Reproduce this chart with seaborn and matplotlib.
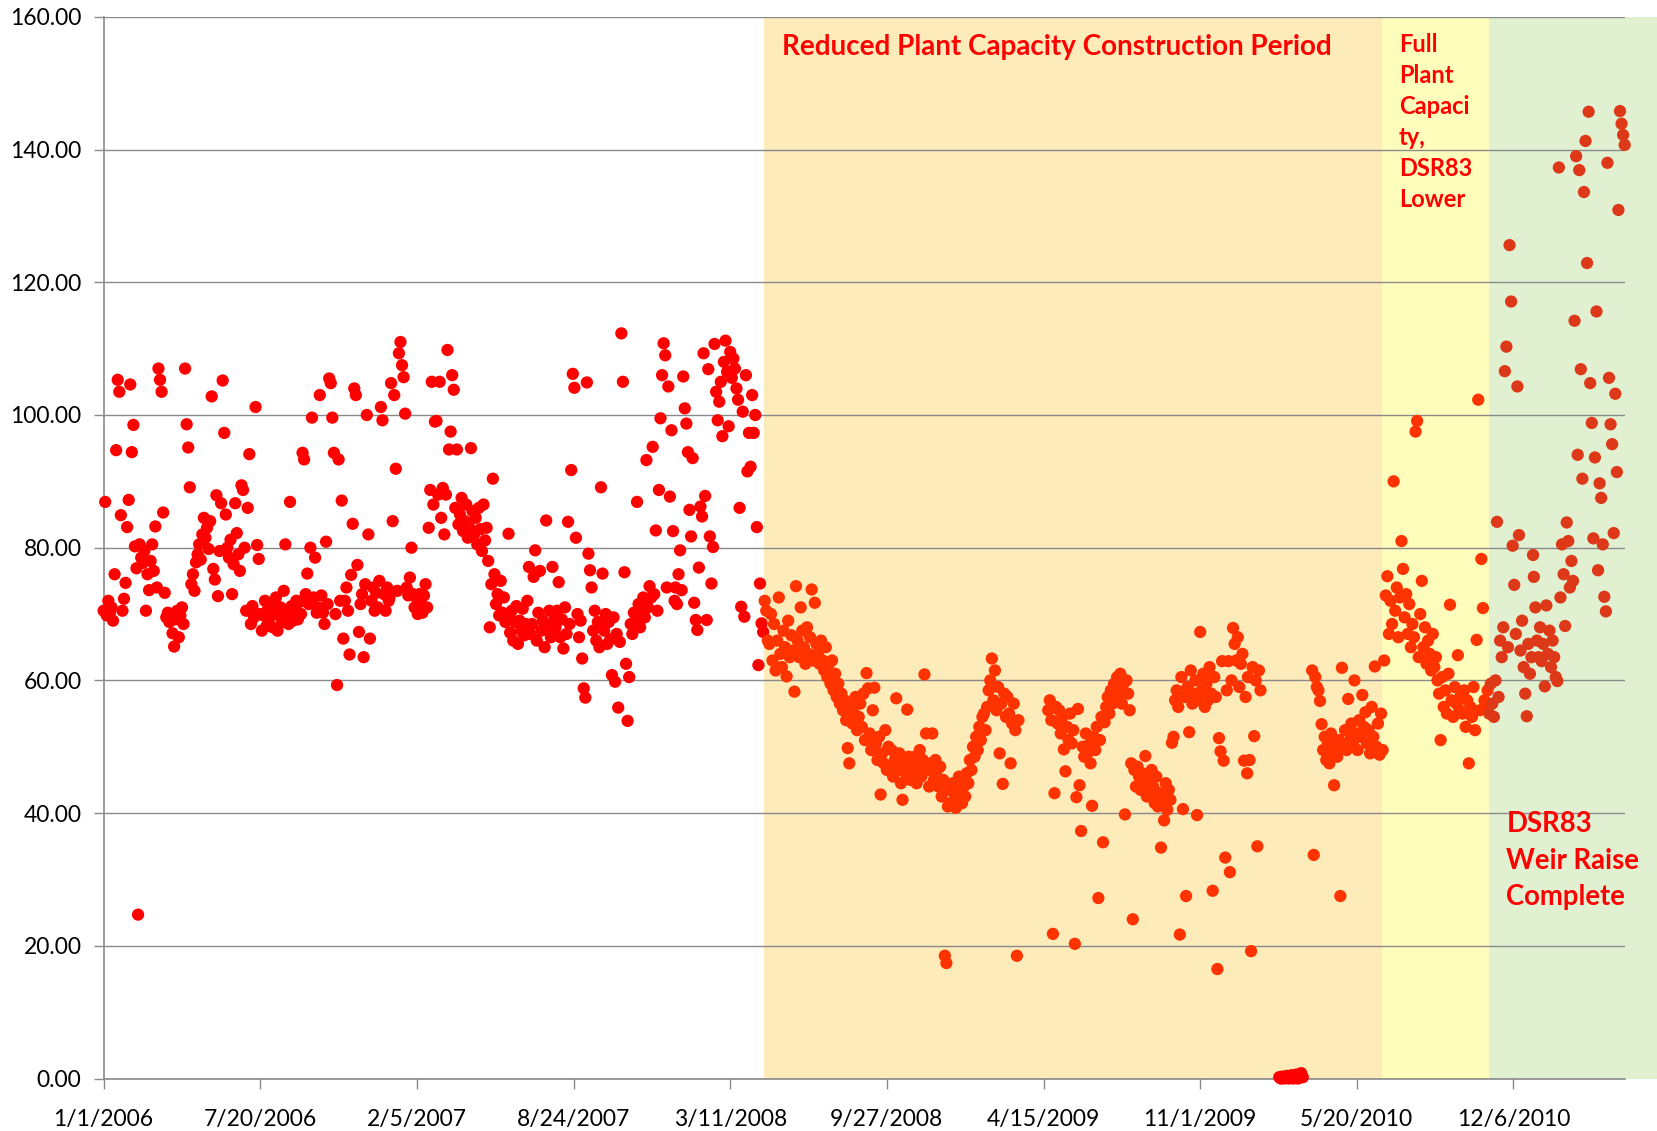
import numpy as np
import pandas as pd
import matplotlib
matplotlib.use("Agg")
import matplotlib.pyplot as plt
import seaborn as sns

NA = None

# Daily-ish readings (one value every 2 days from Jan 1 of each year)
v2006 = [
    70.5, 86.9, 69.8, 72.0, 70.2, 71.0, 69.0, 76.0, 94.7, 105.3, 103.5, 84.9, 70.5, 72.3, 74.7, 83.1,
    87.2, 104.6, 94.4, 98.5, 80.2, 76.9, 24.7, 80.5, 78.5, 77.7, 79.5, 70.5, 76.0, 73.6,
    78.0, 80.5, 76.5, 83.2, 74.0, 107.0, 105.3, 103.5, 85.3, 73.2, 69.5, 70.2, 68.8, 69.9, 67.1,
    65.1, 69.2, 70.5, 66.5, 69.8, 71.0, 68.5, 107.0, 98.6, 95.1, 89.1, 74.5, 76.0, 73.5, 77.8,
    79.0, 80.5, 78.2, 82.0, 84.5, 81.5, 83.0, 79.8, 84.0, 102.8, 76.8, 75.2, 87.9, 72.7, 79.5,
    86.7, 105.2, 97.3, 85.0, 80.0, 78.5, 81.2, 73.0, 77.5, 86.7, 82.2, 79.0, 76.5, 89.4, 88.7, 80.0,
    70.5, 86.0, 94.1, 68.5, 71.2, 69.5, 101.2, 80.4, 78.3, 70.0, 67.5, 69.8, 72.0, 68.2, 70.8,
    69.5, 71.5, 68.0, 70.2, 72.5, 67.5, 69.8, 71.0, 68.8, 73.5, 80.5, 70.0, 68.5, 86.9, 71.2, 69.0,
    70.5, 72.0, 69.2, 71.8, 70.0, 94.3, 93.3, 73.0, 76.1, 71.5, 80.0, 99.6, 72.5, 78.5, 70.2,
    71.0, 103.0, 72.8, 70.2, 68.5, 80.9, 71.5, 105.5, 104.8, 99.6, 94.3, 70.0, 59.3, 93.3, 72.0,
    87.1, 66.3, 72.0, 74.0, 70.5, 63.9, 75.9, 83.6, 104.0, 103.0, 77.4, 67.3, 71.5, 73.0, 63.5,
    74.5, 100.0, 82.0, 66.3, 72.0, 74.0, 70.5, 73.2, 71.0, 75.0, 101.2, 99.2, 73.0, 70.5, 74.0, 72.0,
]
v2007 = [
    72.5, 104.8, 84.0, 103.0, 91.9, 73.5, 109.3, 111.0, 107.5, 105.7, 100.2, 74.0, 72.8, 75.5, 80.0, 73.0,
    71.0, 72.5, 70.0, 73.0, 71.5, 70.2, 72.8, 74.5, 71.0, 83.0, 88.7, 105.0, 86.5, 99.0,
    99.1, 88.0, 105.0, 84.5, 89.0, 82.0, 88.0, 109.8, 94.8, 97.5, 106.0, 103.8, 86.0, 94.8, 83.5,
    85.0, 87.5, 82.5, 84.0, 86.5, 81.5, 83.0, 95.0, 85.5, 82.0, 84.5, 80.5, 86.0, 82.8, 79.5,
    86.5, 81.1, 83.0, 78.0, 68.0, 74.5, 90.4, 76.0, 71.5, 73.0, 69.8, 75.0, 70.2, 72.5, 68.8,
    69.5, 82.1, 67.2, 70.5, 66.0, 68.8, 71.2, 65.5, 69.0, 67.5, 70.8, 66.8, 68.5, 72.0, 77.1, 67.0,
    68.5, 75.6, 79.6, 66.0, 70.2, 76.5, 67.5, 69.0, 65.0, 84.1, 68.2, 70.5, 66.5, 77.1, 69.0,
    68.0, 70.5, 74.8, 66.5, 69.2, 64.8, 71.0, 67.0, 83.9, 68.5, 91.7, 106.2, 104.1, 81.5, 70.0, 66.5,
    69.0, 63.3, 58.8, 57.4, 104.9, 79.1, 76.6, 74.0, 67.5, 70.5, 66.0, 68.8, 65.0, 89.1, 76.1,
    67.5, 70.0, 65.5, 68.8, 66.2, 60.8, 69.5, 59.8, 67.0, 55.9, 65.8, 112.3, 105.0, 76.3, 62.5,
    53.9, 60.5, 68.5, 67.0, 70.2, 69.0, 86.9, 71.5, 68.0, 70.8, 72.5, 69.5, 93.2, 71.0, 74.2,
    72.5, 95.2, 73.0, 82.6, 70.5, 88.7, 99.5, 106.0, 110.8, 109.0, 74.0, 104.3, 87.7, 97.7, 82.5, 72.0,
]
v2008 = [
    74.0, 71.5, 76.0, 79.6, 73.6, 105.8, 101.0, 98.7, 94.4, 85.7, 81.7, 93.5, 71.7, 69.1, 67.6, 77.0,
    86.2, 84.7, 109.3, 87.8, 69.1, 106.9, 81.7, 74.6, 80.1, 110.7, 103.5, 99.2, 102.0, 105.0,
    96.8, 108.0, 111.2, 106.5, 98.3, 109.5, 105.6, 108.5, 107.0, 104.0, 102.3, 86.0, 71.1, 100.5, 69.6,
    106.0, 91.5, 97.3, 92.2, 103.0, 97.3, 100.0, 83.1, 62.3, 74.6, 68.6, 67.3, 72.0, 70.5, 66.0,
    65.5, 70.0, 63.0, 68.5, 61.5, 66.0, 72.5, 64.0, 62.0, 67.5, 65.0, 60.6, 69.0, 63.5, 66.8,
    64.5, 58.3, 74.2, 66.0, 63.5, 71.0, 67.5, 65.0, 62.5, 68.0, 64.0, 66.5, 73.7, 63.0, 71.7, 65.5,
    64.0, 62.5, 66.0, 63.0, 61.5, 65.0, 60.5, 62.5, 59.5, 63.0, 58.5, 61.0, 57.5, 59.5, 56.5,
    58.0, 55.5, 57.0, 54.0, 49.8, 47.5, 56.0, 53.5, 55.0, 57.5, 52.5, 54.5, 56.5, 53.0, 58.0, 51.0,
    61.1, 58.8, 52.0, 49.5, 55.5, 58.9, 50.5, 48.0, 51.5, 42.8, 49.0, 47.5, 52.5, 46.5, 50.0,
    47.0, 49.5, 45.5, 48.0, 57.3, 46.5, 49.0, 44.5, 42.0, 47.5, 46.0, 55.6, 48.5, 45.0, 47.5,
    46.0, 48.5, 44.5, 47.0, 49.5, 45.5, 48.0, 60.9, 52.0, 46.5, 44.0, 47.5, 52.0, 45.0, 48.0,
    46.5, 44.0, 47.0, 42.5, 45.0, 18.5, 17.4, 41.0, 43.5, 41.5, 44.5, 42.0, 40.8, 43.0, 45.5, 42.5,
]
v2009 = [
    41.5, 44.0, 42.5, 46.0, 44.5, 48.0, 46.5, 50.0, 48.5, 51.5, 49.5, 53.0, 51.0, 54.5, 55.0, 52.5,
    56.0, 58.5, 60.0, 63.3, 57.0, 61.5, 55.5, 59.0, 49.0, 56.5, 44.4, 58.0, 54.5, 57.5,
    55.0, 47.5, 53.5, 56.5, 52.5, 18.5, 54.0, NA, NA, NA, NA, NA, NA, NA, NA,
    NA, NA, NA, NA, NA, NA, NA, NA, NA, NA, 55.5, 57.0, 54.0, 21.8, 43.0,
    56.0, 53.5, 55.5, 52.0, 54.5, 49.6, 46.3, 53.0, 51.0, 55.0, 50.5, 52.5, 20.3, 42.4, 55.7,
    44.2, 37.3, 50.0, 48.5, 52.0, 49.0, 50.3, 47.5, 41.1, 51.5, 49.5, 53.0, 27.2, 51.0, 54.5, 35.6,
    53.7, 56.0, 57.5, 55.0, 58.5, 56.5, 59.5, 57.0, 60.5, 58.0, 61.0, 56.5, 59.5, 39.8, 60.0,
    58.0, 55.5, 47.5, 24.0, 46.5, 44.0, 47.0, 45.5, 43.5, 46.0, 44.5, 48.6, 42.5, 45.0, 43.0, 46.5,
    44.0, 41.5, 45.5, 41.0, 43.0, 34.8, 42.0, 38.9, 44.5, 40.5, 43.5, 42.0, 50.6, 51.5, 57.0,
    58.5, 56.0, 21.7, 60.5, 40.6, 57.5, 27.5, 59.0, 52.2, 61.5, 56.5, 58.0, 60.0, 39.7, 57.0,
    67.3, 58.5, 61.0, 56.0, 59.5, 57.0, 62.0, 58.0, 28.3, 60.5, 57.5, 16.5, 51.3, 49.3, 62.9,
    47.9, 33.3, 58.5, 62.9, 31.1, 60.0, 67.9, 65.5, 63.0, 66.5, 59.0, 62.5, 64.0, 47.9, 57.5, 46.0,
]
v2010 = [
    60.5, 48.0, 19.2, 62.0, 51.6, 60.0, 35.0, 61.5, 58.5, NA, NA, NA, NA, NA, NA, NA,
    NA, NA, NA, NA, 0.2, 0.0, 0.3, 0.0, 0.1, 0.4, 0.0, 0.2, 0.5, 0.0,
    0.1, 0.6, 0.0, 0.3, 0.8, 0.2, NA, NA, NA, NA, NA, 61.5, 33.7, 60.5, 59.0,
    58.5, 56.9, 53.4, 49.5, 51.5, 48.0, 50.5, 47.5, 52.0, 49.0, 44.2, 50.0, 48.5, 51.0, 27.5,
    61.9, 50.0, 52.5, 49.5, 57.2, 51.0, 53.5, 50.5, 60.0, 52.0, 49.5, 54.0, 51.5, 57.8, 53.0,
    55.2, 50.5, 52.5, 49.0, 56.0, 51.5, 62.1, 50.0, 53.5, 48.8, 55.0, 49.5, 63.0, 72.8, 75.7, 67.0,
    72.0, 68.5, 90.0, 70.5, 74.0, 66.5, 72.5, 81.0, 76.8, 69.5, 73.0, 67.0, 71.5, 65.0, 68.5,
    66.5, 97.5, 99.1, 63.5, 70.0, 75.0, 65.0, 68.0, 62.5, 66.0, 64.0, 61.5, 67.0, 62.0, 63.5, 60.0,
    58.0, 51.0, 60.5, 56.0, 58.5, 55.0, 61.0, 71.4, 57.0, 54.5, 59.0, 56.5, 63.8, 55.5, 58.0,
    55.0, 58.5, 53.0, 57.0, 47.5, 56.0, 54.5, 59.0, 52.5, 66.1, 102.3, 55.5, 78.3, 70.9, 57.0,
    56.0, 58.5, 55.0, 59.5, 56.5, 54.5, 60.0, 83.9, 57.5, 66.0, 63.5, 68.0, 106.6, 110.3, 65.0,
    125.6, 117.1, 80.3, 74.4, 67.0, 104.3, 81.9, 64.5, 69.0, 62.0, 58.0, 54.6, 65.5, 61.0, 63.5, 78.9,
]
v2011 = [
    75.6, 71.0, 66.0, 63.5, 68.0, 62.9, 65.5, 59.1, 71.3, 64.0, 67.5, 62.0, 66.0, 63.5, 60.5, 59.9,
    137.3, 72.5, 80.5, 76.0, 68.2, 83.8, 81.0, 74.0, 78.0, 75.0, 114.2, 139.0, 94.0, 136.9,
    106.9, 90.4, 133.6, 141.3, 122.9, 145.7, 104.8, 98.8, 81.4, 93.6, 115.6, 76.6, 89.7, 87.5, 80.5,
    72.6, 70.4, 138.0, 105.6, 98.6, 95.6, 82.2, 103.2, 91.4, 130.9, 145.8, 143.9, 142.2, 140.7,
]

# Period boundaries
construction_start = pd.Timestamp("2008-04-23")
full_capacity_start = pd.Timestamp("2010-06-21")
weir_start = pd.Timestamp("2010-11-05")
axis_start = pd.Timestamp("2006-01-01")
axis_end = pd.Timestamp("2011-04-27")

y_ticks = [0, 20, 40, 60, 80, 100, 120, 140, 160]
x_tick_step_days = 200
n_x_ticks = 10

frames = []
for year, vals in [(2006, v2006), (2007, v2007), (2008, v2008), (2009, v2009), (2010, v2010), (2011, v2011)]:
    d0 = pd.Timestamp(f"{year}-01-01")
    dates = d0 + pd.to_timedelta(np.arange(len(vals)) * 2, unit="D")
    frames.append(pd.DataFrame({"date": dates, "value": pd.Series(vals, dtype="float")}))
df = pd.concat(frames, ignore_index=True).dropna()

def phase(row):
    if row["value"] < 1:
        return "outage"
    if row["date"] < construction_start:
        return "before"
    if row["date"] < weir_start:
        return "construction"
    return "weir"

df["phase"] = df.apply(phase, axis=1)
palette = {"before": "#FF0000", "outage": "#FF0000", "construction": "#FF3300", "weir": "#DD3818"}

sns.set_theme(style="white")
plt.rcParams["font.family"] = ["Lato", "DejaVu Sans"]

fig = plt.figure(figsize=(16.58, 11.31), dpi=100)
ax = fig.add_axes([0.0625, 0.0464, 0.9174, 0.9387])

ax.axvspan(construction_start, full_capacity_start, color="#FEEBBA", lw=0, zorder=0.1)
ax.axvspan(full_capacity_start, weir_start, color="#FFFDBC", lw=0, zorder=0.1)
ax.axvspan(weir_start, axis_end + pd.Timedelta(days=60), color="#E0F0D1", lw=0, zorder=0.1, clip_on=False)

sns.scatterplot(data=df, x="date", y="value", hue="phase", palette=palette, s=78,
                linewidth=0, legend=False, ax=ax, zorder=3, clip_on=False)

ax.set_xlim(axis_start, axis_end)
ax.set_ylim(0, 160)
ax.set_axisbelow(True)
ax.yaxis.grid(True, color="#8A8A8A", lw=1.0)
ax.xaxis.grid(False)
ax.set_yticks(y_ticks)
ax.set_yticklabels([f"{t:.2f}" for t in y_ticks])
xt = [axis_start + pd.Timedelta(days=x_tick_step_days * k) for k in range(n_x_ticks)]
ax.set_xticks(xt)
ax.set_xticklabels([f"{d.month}/{d.day}/{d.year}" for d in xt])
ax.set_xlabel("")
ax.set_ylabel("")
for side in ["top", "right"]:
    ax.spines[side].set_visible(False)
for side in ["left", "bottom"]:
    ax.spines[side].set_color("#8A8A8A")
    ax.spines[side].set_linewidth(1.2)
ax.tick_params(axis="x", direction="out", length=7, width=1, color="#8A8A8A", pad=15,
               labelsize=16.5, labelcolor="black", bottom=True)
ax.tick_params(axis="y", direction="out", length=7, width=1, color="#8A8A8A", pad=9,
               labelsize=16.5, labelcolor="black", left=True)

ax.text(axis_start + pd.Timedelta(days=866), 155.5, "Reduced Plant Capacity Construction Period",
        color="#FF0000", fontsize=20, fontweight="bold", va="center", ha="left", zorder=4)
ax.text(axis_start + pd.Timedelta(days=1654), 157.6, "Full\nPlant\nCapaci\nty,\nDSR83\nLower",
        color="#FF0000", fontsize=17, fontweight="bold", va="top", ha="left", linespacing=1.42, zorder=4)
ax.text(axis_start + pd.Timedelta(days=1791), 40.3, "DSR83\nWeir Raise\nComplete",
        color="#FF0000", fontsize=19.8, fontweight="bold", va="top", ha="left", linespacing=1.5, zorder=4)

fig.savefig("out.png", dpi=100)
